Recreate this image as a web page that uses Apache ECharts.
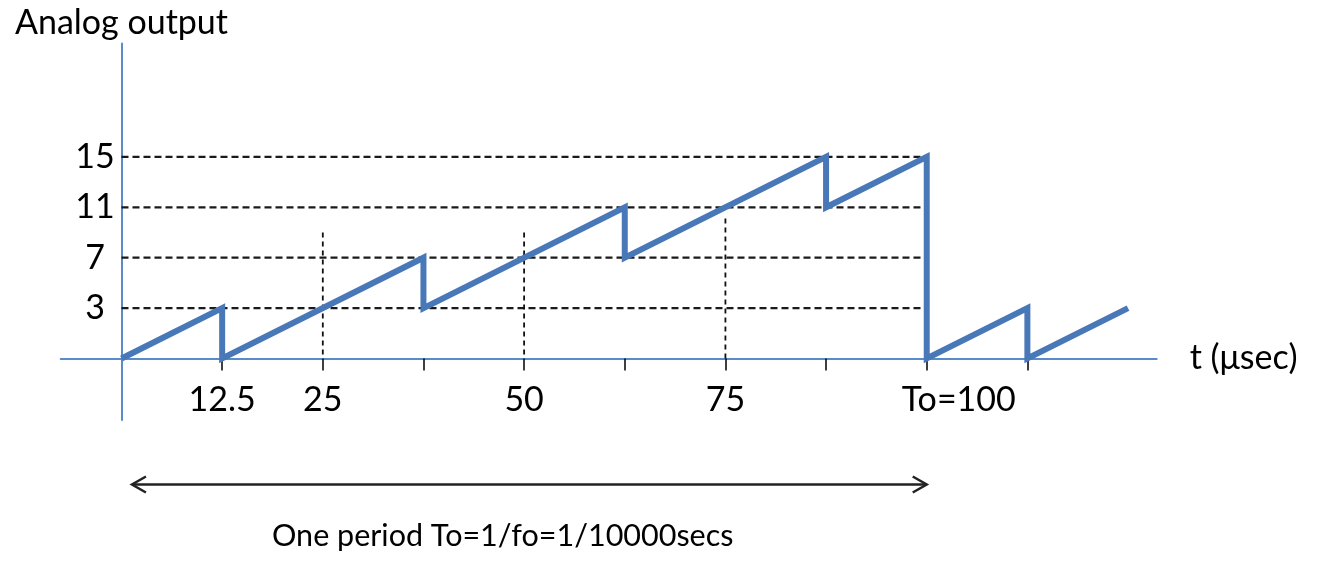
<!DOCTYPE html>
<html><head><meta charset="utf-8">
<script src="https://cdn.jsdelivr.net/npm/echarts@6/dist/echarts.min.js"></script>
<style>html,body{margin:0;padding:0;background:#fff}#c{width:1323px;height:561px}</style>
</head><body><div id="c"></div>
<script>
// Output codes, drawn at equal vertical steps (level index 0..4)
const levelValues = [0, 3, 7, 11, 15];
const levelLabels = ['', '3', '7', '11', '15'];
// x axis labels / ticks (t in microseconds)
const xLabelValues = [12.5, 25, 50, 75, 100];
const xLabelTexts = ['12.5', '25', '50', '75', 'To=100'];
const tickTimes = [12.5, 25, 37.5, 50, 62.5, 75, 87.5, 100, 112.5];
// staircase-ramp analog output
const signalTime = [0, 12.5, 12.5, 37.5, 37.5, 62.5, 62.5, 87.5, 87.5, 100, 100, 112.5, 112.5, 125];
const signalValue = [0, 3, 0, 7, 3, 11, 7, 15, 11, 15, 0, 3, 0, 3];
// dashed guides
const hGuideLevels = [3, 7, 11, 15];
const hGuideEnd = 100;
const vGuideTimes = [25, 50, 75];
const vGuideTopLevel = [2.5, 2.5, 2.78];
// period arrow
const periodRange = [1.3, 100];
const periodLevel = -2.5;

const FONT = 'Lato';
const AXIS = '#5a8bc9';
const lvl = v => levelValues.indexOf(v);

const chart = echarts.init(document.getElementById('c'), null, {renderer: 'canvas'});
chart.setOption({
  backgroundColor: '#fff',
  animation: false,
  title: {
    text: 'One period To=1/fo=1/10000secs',
    left: 267, top: 516,
    textStyle: {fontFamily: FONT, fontSize: 30.5, fontWeight: 'normal', color: '#000'}
  },
  grid: {left: 60.7, right: 1323 - 1156.7, top: 43.5, bottom: 561 - 420},
  xAxis: {
    type: 'value', min: -7.55, max: 128.56,
    name: 't (\u03bcsec)', nameLocation: 'end', nameGap: 33,
    nameTextStyle: {fontFamily: FONT, fontSize: 34, color: '#000', verticalAlign: 'middle', padding: [26, 0, 0, 0]},
    axisLine: {onZero: true, lineStyle: {color: AXIS, width: 2}},
    splitLine: {show: false},
    axisTick: {show: true, customValues: tickTimes, length: 12, lineStyle: {color: '#000', width: 1.5}},
    axisLabel: {
      customValues: xLabelValues, margin: -20, verticalAlign: 'middle',
      fontFamily: FONT, fontSize: 34, color: '#000',
      formatter: v => {
        const t = xLabelTexts[xLabelValues.indexOf(v)];
        return v === 100 ? '{s|' + t + '}' : t;
      },
      rich: {s: {fontFamily: FONT, fontSize: 34, color: '#000', padding: [0, 0, 0, 64]}}
    }
  },
  yAxis: {
    type: 'value', min: -1.22, max: 6.25,
    name: 'Analog output', nameLocation: 'end', nameGap: 20,
    nameTextStyle: {fontFamily: FONT, fontSize: 34, color: '#000', verticalAlign: 'middle', align: 'center'},
    axisLine: {onZero: true, lineStyle: {color: AXIS, width: 2}},
    splitLine: {show: false},
    axisTick: {show: false},
    axisLabel: {
      customValues: [1, 2, 3, 4], margin: -34.3, align: 'center', verticalAlign: 'middle',
      fontFamily: FONT, fontSize: 34, color: '#000',
      formatter: v => levelLabels[v]
    }
  },
  series: [
    {
      type: 'custom', name: 'hGuides', z: 1, silent: true,
      data: hGuideLevels.map(v => [0, hGuideEnd, lvl(v)]),
      encode: {x: [0, 1], y: 2},
      renderItem: (p, api) => {
        const a = api.coord([api.value(0), api.value(2)]);
        const b = api.coord([api.value(1), api.value(2)]);
        return {type: 'line', shape: {x1: a[0], y1: a[1], x2: b[0], y2: b[1]},
          style: {stroke: '#1a1a1a', lineWidth: 2.2, lineDash: [7, 4]}};
      }
    },
    {
      type: 'custom', name: 'vGuides', z: 1, silent: true,
      data: vGuideTimes.map((t, i) => [t, vGuideTopLevel[i]]),
      renderItem: (p, api) => {
        const a = api.coord([api.value(0), api.value(1)]);
        const b = api.coord([api.value(0), 0]);
        return {type: 'line', shape: {x1: a[0], y1: a[1], x2: b[0], y2: b[1]},
          style: {stroke: '#111', lineWidth: 1.8, lineDash: [5, 4]}};
      }
    },
    {
      type: 'line', name: 'output', z: 5, symbol: 'none', silent: true,
      data: signalTime.map((t, i) => [t, lvl(signalValue[i])]),
      lineStyle: {color: '#4878b8', width: 6, join: 'miter'}
    },
    {
      type: 'custom', name: 'period', z: 3, silent: true, clip: false,
      data: [[periodRange[0], periodRange[1], periodLevel]],
      encode: {x: [0, 1], y: 2},
      renderItem: (p, api) => {
        const a = api.coord([api.value(0), api.value(2)]);
        const b = api.coord([api.value(1), api.value(2)]);
        const st = {stroke: '#222', lineWidth: 2.5, fill: null};
        return {type: 'group', children: [
          {type: 'line', shape: {x1: a[0], y1: a[1], x2: b[0], y2: b[1]}, style: st},
          {type: 'polyline', shape: {points: [[a[0] + 14, a[1] - 8], [a[0], a[1]], [a[0] + 14, a[1] + 8]]}, style: st},
          {type: 'polyline', shape: {points: [[b[0] - 14, b[1] - 8], [b[0], b[1]], [b[0] - 14, b[1] + 8]]}, style: st}
        ]};
      }
    }
  ]
});
</script></body></html>
